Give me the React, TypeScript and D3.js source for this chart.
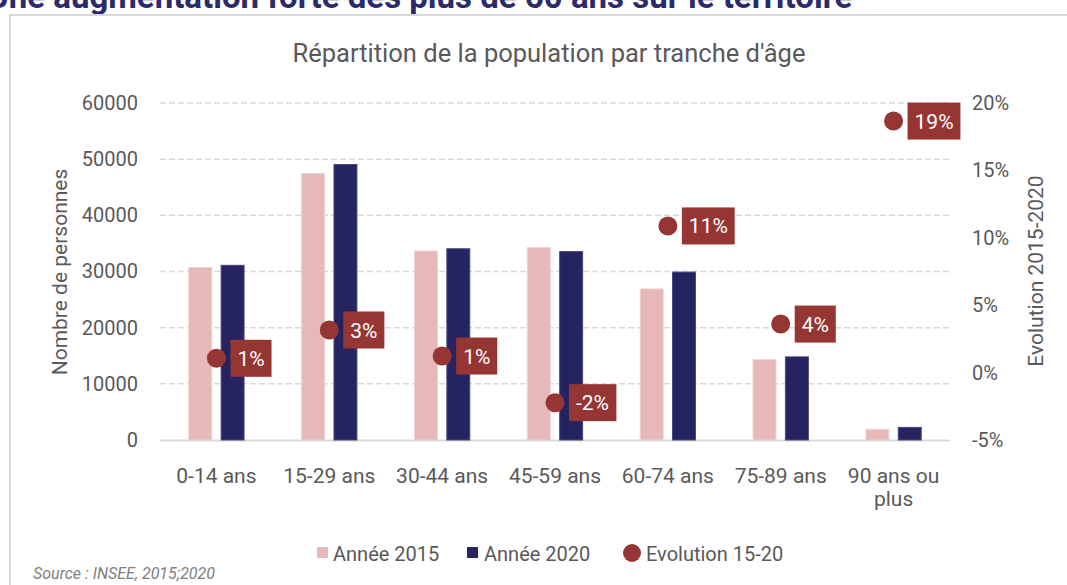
import React, { useEffect, useRef } from 'react';
import * as d3 from 'd3';

const categories = ['0-14 ans', '15-29 ans', '30-44 ans', '45-59 ans', '60-74 ans', '75-89 ans', '90 ans ou\nplus'];
const pop2015 = [30700, 47450, 33650, 34250, 26900, 14300, 1900];
const pop2020 = [31100, 49050, 34050, 33550, 29900, 14800, 2250];
const evolution = [0.0106, 0.0316, 0.0123, -0.0223, 0.1088, 0.036, 0.1866];
const leftTicks = [0, 10000, 20000, 30000, 40000, 50000, 60000];
const rightTicks = [-0.05, 0, 0.05, 0.1, 0.15, 0.2];
const seriesNames = ['Année 2015', 'Année 2020', 'Evolution 15-20'];

const FONT = 'Roboto, "DejaVu Sans", sans-serif';
const GREY = '#595959';
const PINK = '#e6b8b7';
const NAVY = '#262460';
const RED = '#963634';

const pct = (v) => d3.format('.0%')(v).replace('\u2212', '-');

// rough text width for the label boxes (digits ~0.56em, % ~0.73em)
const labelWidth = (s, size) =>
  s.split('').reduce((w, c) => w + (c === '%' ? 0.73 : c === '-' ? 0.3 : 0.56), 0) * size;

const App = () => {
  const svgRef = useRef();

  useEffect(() => {
    const svg = d3.select(svgRef.current);
    svg.selectAll('*').remove();

    const left = 160;
    const right = 950;
    const top = 103;
    const bottom = 440;

    // page heading, cut by the top edge (as in the original screenshot)
    svg
      .append('text')
      .attr('x', -13)
      .attr('y', 8)
      .text('Une augmentation forte des plus de 60 ans sur le territoire')
      .style('font-family', FONT)
      .style('font-weight', 'bold')
      .style('font-size', '33px')
      .style('fill', '#2b2a6b');

    svg
      .append('rect')
      .attr('x', 10)
      .attr('y', 15)
      .attr('width', 1100)
      .attr('height', 700)
      .attr('fill', 'white')
      .attr('stroke', '#d9d9d9')
      .attr('stroke-width', 2);

    svg
      .append('text')
      .attr('x', 549)
      .attr('y', 62)
      .attr('text-anchor', 'middle')
      .text("Répartition de la population par tranche d'âge")
      .style('font-family', FONT)
      .style('font-size', '25.5px')
      .style('fill', GREY);

    const x0 = d3
      .scaleBand()
      .domain(categories)
      .range([left, right])
      .paddingInner(0.51)
      .paddingOuter(0.255);

    const x1 = d3
      .scaleBand()
      .domain(['2015', '2020'])
      .range([0, x0.bandwidth()])
      .paddingInner(0.29);

    const y = d3.scaleLinear().domain([0, 60000]).range([bottom, top]);
    const yR = d3.scaleLinear().domain([-0.05, 0.2]).range([bottom, top]);

    // gridlines
    svg
      .append('g')
      .selectAll('line')
      .data(leftTicks.filter((d) => d > 0))
      .enter()
      .append('line')
      .attr('x1', left)
      .attr('x2', right)
      .attr('y1', (d) => y(d))
      .attr('y2', (d) => y(d))
      .attr('stroke', '#d9d9d9')
      .attr('stroke-width', 1.5)
      .attr('stroke-dasharray', '6,3');

    svg
      .append('line')
      .attr('x1', left)
      .attr('x2', right)
      .attr('y1', bottom + 0.5)
      .attr('y2', bottom + 0.5)
      .attr('stroke', '#d9d9d9')
      .attr('stroke-width', 2);

    // left axis
    const ga = svg.append('g').attr('transform', 'translate(138,0)');
    ga.call(d3.axisLeft(y).tickValues(leftTicks).tickFormat(d3.format('d')).tickSize(0).tickPadding(0));
    ga.select('.domain').remove();
    ga.selectAll('text')
      .style('font-family', FONT)
      .style('font-size', '20px')
      .style('fill', GREY);

    // right axis
    const gr = svg.append('g').attr('transform', 'translate(972,0)');
    gr.call(d3.axisRight(yR).tickValues(rightTicks).tickFormat(pct).tickSize(0).tickPadding(0));
    gr.select('.domain').remove();
    gr.selectAll('text')
      .style('font-family', FONT)
      .style('font-size', '20px')
      .style('fill', GREY);

    svg
      .append('text')
      .attr('transform', 'translate(67,272) rotate(-90)')
      .attr('text-anchor', 'middle')
      .text('Nombre de personnes')
      .style('font-family', FONT)
      .style('font-size', '21px')
      .style('fill', GREY);

    svg
      .append('text')
      .attr('transform', 'translate(1043,271) rotate(-90)')
      .attr('text-anchor', 'middle')
      .text('Evolution 2015-2020')
      .style('font-family', FONT)
      .style('font-size', '21px')
      .style('fill', GREY);

    // bars
    const groups = svg
      .append('g')
      .selectAll('g')
      .data(categories)
      .enter()
      .append('g')
      .attr('transform', (d) => `translate(${x0(d)},0)`);

    groups
      .append('rect')
      .attr('x', x1('2015'))
      .attr('y', (d, i) => y(pop2015[i]))
      .attr('width', x1.bandwidth())
      .attr('height', (d, i) => bottom - y(pop2015[i]))
      .attr('fill', PINK)
      .attr('stroke', '#eed2d1')
      .attr('stroke-width', 1);

    groups
      .append('rect')
      .attr('x', x1('2020'))
      .attr('y', (d, i) => y(pop2020[i]))
      .attr('width', x1.bandwidth())
      .attr('height', (d, i) => bottom - y(pop2020[i]))
      .attr('fill', NAVY)
      .attr('stroke', '#4a4880')
      .attr('stroke-width', 1);

    // x labels, split on line breaks
    categories.forEach((d) => {
      const cx = x0(d) + x0.bandwidth() / 2;
      d.split('\n').forEach((line, k) => {
        svg
          .append('text')
          .attr('text-anchor', 'middle')
          .attr('x', cx)
          .attr('y', 483 + k * 23)
          .text(line)
          .style('font-family', FONT)
          .style('font-size', '21px')
          .style('fill', GREY);
      });
    });

    // evolution dots + labels
    categories.forEach((d, i) => {
      const g = svg
        .append('g')
        .attr('transform', `translate(${x0(d) + x0.bandwidth() / 2},${yR(evolution[i])})`);
      g.append('circle').attr('r', 9.5).attr('fill', RED);
      const label = pct(evolution[i]);
      const w = labelWidth(label, 21);
      g.append('rect').attr('x', 14).attr('y', -18.5).attr('width', w + 14).attr('height', 37).attr('fill', RED);
      g.append('text')
        .attr('x', 14 + 7)
        .attr('y', 7.5)
        .text(label)
        .style('font-family', FONT)
        .style('font-size', '21px')
        .style('fill', 'white');
    });

    // legend
    const legend = svg.append('g').attr('transform', 'translate(0,553)');
    legend.append('rect').attr('x', 317).attr('y', -6).attr('width', 11).attr('height', 11).attr('fill', PINK);
    legend.append('rect').attr('x', 467).attr('y', -6).attr('width', 11).attr('height', 11).attr('fill', NAVY);
    legend.append('circle').attr('cx', 632).attr('cy', 0).attr('r', 9).attr('fill', RED);
    [333, 484, 646].forEach((lx, i) => {
      legend
        .append('text')
        .attr('x', lx)
        .attr('y', 8)
        .text(seriesNames[i])
        .style('font-family', FONT)
        .style('font-size', '20px')
        .style('fill', GREY);
    });

    svg
      .append('text')
      .attr('x', 33)
      .attr('y', 579)
      .text('Source : INSEE, 2015;2020')
      .style('font-family', FONT)
      .style('font-style', 'italic')
      .style('font-size', '16px')
      .style('fill', '#7f7f7f');
  }, []);

  return (
    <svg
      ref={svgRef}
      width={1067}
      height={585}
      style={{ position: 'absolute', left: 0, top: 0, background: 'white' }}
    ></svg>
  );
};

export default App;
